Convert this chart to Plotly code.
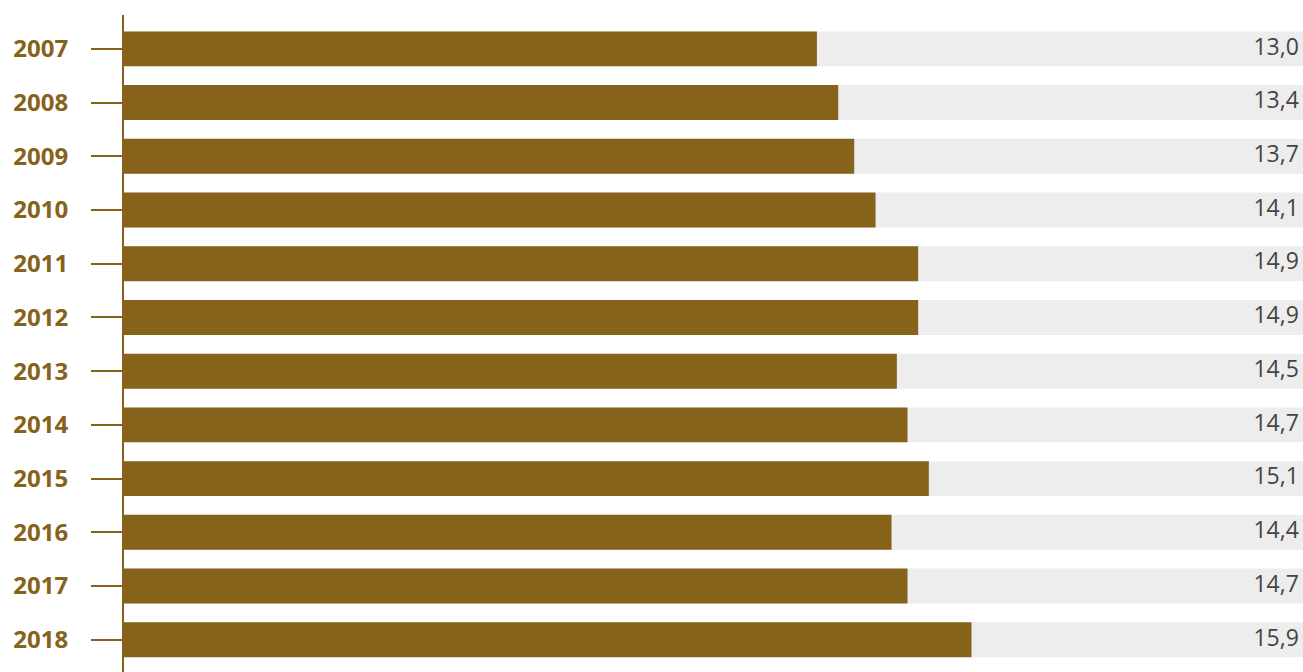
import plotly.graph_objects as go

years = ["2007", "2008", "2009", "2010", "2011", "2012", "2013", "2014", "2015", "2016", "2017", "2018"]
values = [13.0, 13.4, 13.7, 14.1, 14.9, 14.9, 14.5, 14.7, 15.1, 14.4, 14.7, 15.9]
track_max = 22.12

BROWN = "#86621A"
GREY = "#EDEDED"

labels = [f"{v:.1f}".replace(".", ",") for v in values]

fig = go.Figure()
fig.add_trace(go.Bar(
    y=years, x=[track_max] * len(years), orientation="h",
    marker=dict(color=GREY, line=dict(width=0)),
    width=0.65, hoverinfo="skip", showlegend=False,
))
fig.add_trace(go.Bar(
    y=years, x=values, orientation="h",
    marker=dict(color=BROWN, line=dict(width=0)),
    width=0.65, showlegend=False,
))
fig.add_trace(go.Scatter(
    y=years, x=[track_max * 0.9965] * len(years), mode="text",
    text=labels, textposition="middle left",
    textfont=dict(family="Open Sans", size=23, color="#444444"),
    cliponaxis=False, hoverinfo="skip", showlegend=False,
))

fig.update_layout(
    width=1303, height=672,
    margin=dict(l=124, r=0, t=15, b=0),
    barmode="overlay",
    plot_bgcolor="white", paper_bgcolor="white",
    xaxis=dict(range=[0, track_max], visible=False, fixedrange=True, automargin=False),
    yaxis=dict(
        categoryorder="array", categoryarray=years,
        range=[11.6, -0.63], automargin=False,
        showline=True, linecolor=BROWN, linewidth=2,
        ticks="outside", ticklen=31, tickcolor=BROWN, tickwidth=2,
        ticklabelstandoff=18,
        tickfont=dict(family="Open Sans", size=24, color=BROWN, weight="bold"),
        showgrid=False, zeroline=False,
    ),
)

fig.write_html(
    "out.html",
    config={"displayModeBar": False},
    post_script="document.body.style.margin='0';document.body.style.overflow='hidden';",
)
